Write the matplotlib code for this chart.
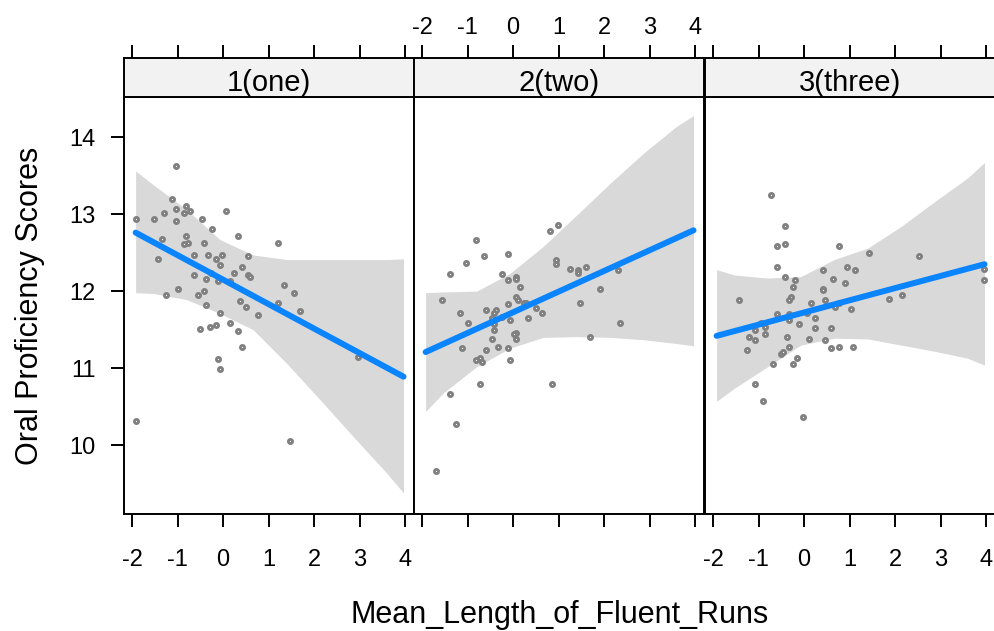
import numpy as np, matplotlib
matplotlib.use("Agg"); import matplotlib.pyplot as plt
plt.rcParams["font.family"]=["Liberation Sans","DejaVu Sans"]

panels=["1(one)","2(two)","3(three)"]
# scatter: Mean_Length_of_Fluent_Runs vs Oral Proficiency Scores, per panel
p1_x=[-1.03,-1.91,-1.52,-1.30,-1.12,-1.03,-0.81,-0.86,-0.73,-1.03,-0.46,0.06,-0.24,-1.34,-1.43,-0.81,-0.86,-0.77,-0.42,-0.64,
      -0.33,-0.02,-0.16,-0.07,0.33,0.55,0.41,0.24,-0.26,-0.64,-0.38,-0.11,0.15,0.55,0.59,1.21,1.34,1.56,1.69,1.21,
      -0.99,-1.25,-0.42,-0.55,-0.38,0.37,0.50,-0.07,0.77,0.15,-0.51,-0.29,-0.16,0.33,0.41,-0.11,-0.07,2.96,-1.91,1.47]
p1_y=[13.62,12.94,12.94,13.02,13.20,13.07,13.10,13.02,13.04,12.91,12.94,13.04,12.81,12.68,12.42,12.71,12.61,12.63,12.63,12.47,
      12.47,12.47,12.42,12.34,12.71,12.45,12.32,12.24,12.24,12.21,12.16,12.13,12.13,12.21,12.19,12.63,12.08,11.98,11.74,11.85,
      12.03,11.95,12.00,11.95,11.82,11.87,11.80,11.72,11.69,11.59,11.51,11.54,11.56,11.48,11.28,11.12,10.99,11.15,10.31,10.05]
p2_x=[0.99,0.81,-0.81,-0.11,-0.64,-1.03,-1.39,-0.24,-0.11,0.06,0.06,0.15,0.94,0.94,1.25,1.42,1.42,1.60,2.30,1.91,
      -1.56,0.06,0.11,-0.11,0.24,0.28,1.47,0.50,0.63,-1.17,-0.59,-0.38,-0.42,-0.24,-0.46,-0.99,-0.07,0.33,2.35,-0.42,
      -0.42,0.06,0.02,0.06,-0.46,1.69,-1.12,-0.59,-0.33,-0.11,-0.81,-0.73,-0.68,-0.07,-0.73,0.85,-1.39,-1.25,-1.69]
p2_y=[12.86,12.78,12.66,12.48,12.45,12.37,12.22,12.22,12.14,12.19,12.16,12.06,12.40,12.35,12.29,12.27,12.24,12.32,12.27,12.03,
      11.88,11.93,11.88,11.83,11.85,11.85,11.85,11.78,11.72,11.72,11.75,11.75,11.72,11.67,11.65,11.59,11.62,11.65,11.59,11.57,
      11.49,11.46,11.44,11.38,11.38,11.41,11.26,11.23,11.28,11.26,11.11,11.13,11.08,11.11,10.79,10.79,10.66,10.27,9.67]
p3_x=[-0.72,-0.42,-0.59,-0.42,0.77,1.43,2.53,-0.59,0.95,1.12,0.42,-0.42,-0.20,0.64,0.90,-0.24,0.42,0.42,3.94,3.94,
      -1.43,-0.28,-0.33,0.16,0.46,0.77,0.68,1.04,1.87,2.14,-0.59,-0.33,0.07,-0.33,0.24,-0.94,-0.86,-0.11,-1.08,-0.86,
      0.24,0.60,-1.21,-1.08,-0.37,0.11,0.46,-1.25,-0.33,0.60,0.77,1.08,-0.50,-0.46,-0.15,-0.68,-0.24,-1.08,-0.90,-0.02]
p3_y=[13.25,12.84,12.58,12.61,12.58,12.50,12.45,12.32,12.32,12.27,12.27,12.19,12.14,12.16,12.11,12.06,12.03,12.01,12.29,12.14,
      11.88,11.93,11.88,11.85,11.88,11.85,11.80,11.77,11.90,11.95,11.70,11.70,11.72,11.62,11.65,11.59,11.54,11.57,11.49,11.44,
      11.52,11.52,11.41,11.36,11.41,11.38,11.36,11.23,11.28,11.26,11.28,11.28,11.18,11.21,11.13,11.05,11.05,10.79,10.58,10.37]

# fitted line and confidence band
fit_x=[-1.92,3.96]
p1_fit=[12.76,10.89]; p2_fit=[11.21,12.79]; p3_fit=[11.42,12.35]
band_x=[-1.92,-1.53,-0.80,-0.07,0.66,1.40,2.13,2.86,3.59,3.96]
p1_hi=[13.56,13.38,13.06,12.67,12.47,12.41,12.41,12.41,12.41,12.42]
p1_lo=[11.98,11.97,11.89,11.71,11.50,11.06,10.59,10.11,9.64,9.38]
p2_hi=[11.98,11.99,12.00,12.23,12.58,12.99,13.40,13.79,14.14,14.28]
p2_lo=[10.44,10.68,11.02,11.26,11.40,11.41,11.40,11.37,11.32,11.29]
p3_hi=[12.28,12.21,12.17,12.19,12.41,12.56,12.84,13.16,13.47,13.67]
p3_lo=[10.57,10.74,11.02,11.30,11.39,11.38,11.30,11.22,11.13,11.04]
xticks=[-2,-1,0,1,2,3,4]; yticks=[10,11,12,13,14]

W,H=995,631
fig=plt.figure(figsize=(W/100,H/100),dpi=100)
# last panel runs past the right edge of the picture, as in the original
lefts=[124,414,705]; widths=[290,290,293]; top,bot,stop=97,514,58
unit=290/6.365
data=[(p1_x,p1_y,p1_fit,p1_hi,p1_lo),(p2_x,p2_y,p2_fit,p2_hi,p2_lo),(p3_x,p3_y,p3_fit,p3_hi,p3_lo)]
lw=1.4; tl=9.4
for i,(px,py,fit,hi,lo) in enumerate(data):
    xl=(-2.175,-2.175+widths[i]/unit)
    ax=fig.add_axes([lefts[i]/W,1-bot/H,widths[i]/W,(bot-top)/H])
    ax.fill_between(band_x,lo,hi,color="#d9d9d9",lw=0,zorder=1)
    ax.plot(px,py,"o",ms=3.0,mfc="white",mec="#808080",mew=2.0,zorder=2,clip_on=False)
    ax.plot(fit_x,fit,color="#0a84ff",lw=4.3,solid_capstyle="round",zorder=3)
    ax.set_xlim(*xl); ax.set_ylim(9.108,14.52)
    for s in ax.spines.values(): s.set_linewidth(lw)
    ax.set_xticks(xticks); ax.set_xticklabels([str(t) for t in xticks] if i!=1 else [])
    ax.tick_params(axis="x",direction="out",length=tl,width=lw,pad=15.5,labelsize=17)
    if i==0:
        ax.set_yticks(yticks)
        ax.tick_params(axis="y",direction="out",length=tl,width=lw,pad=11,labelsize=17)
    else:
        ax.set_yticks([])
    st=fig.add_axes([lefts[i]/W,1-top/H,widths[i]/W,(top-stop)/H])
    st.set_facecolor("#f2f2f2"); st.set_xlim(*xl); st.set_ylim(0,1); st.set_yticks([])
    for s in st.spines.values(): s.set_linewidth(lw)
    st.xaxis.tick_top(); st.set_xticks(xticks)
    st.set_xticklabels([str(t) for t in xticks] if i==1 else [])
    st.tick_params(axis="x",direction="out",length=tl,width=lw,pad=4.5,labelsize=17)
    st.text(145/widths[i],0.36,panels[i],transform=st.transAxes,ha="center",va="center",fontsize=21)

fig.text(30/W,1-305.5/H,"Oral Proficiency Scores",rotation=90,ha="center",va="center",fontsize=22)
fig.text(560/W,1-623/H,"Mean_Length_of_Fluent_Runs",ha="center",va="baseline",fontsize=22)
fig.savefig("out.png",dpi=100)
